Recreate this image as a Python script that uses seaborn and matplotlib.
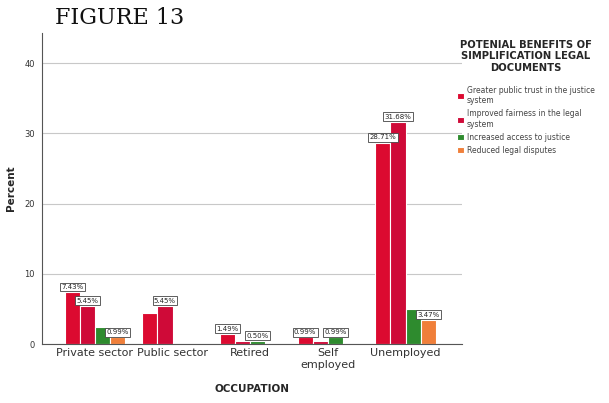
import matplotlib
matplotlib.use("Agg")
import matplotlib.pyplot as plt
import seaborn as sns
import pandas as pd

categories = ["Private sector", "Public sector", "Retired", "Self\nemployed", "Unemployed"]
series = ["Greater public trust in the justice\nsystem",
          "Improved fairness in the legal\nsystem",
          "Increased access to justice",
          "Reduced legal disputes"]
trust = [7.43, 4.46, 1.49, 0.99, 28.71]
fairness = [5.45, 5.45, 0.50, 0.50, 31.68]
access = [2.48, 0.0, 0.50, 0.99, 4.95]
disputes = [0.99, 0.0, 0.0, 0.0, 3.47]
labels_trust = ["7.43%", "", "1.49%", "0.99%", "28.71%"]
labels_fair = ["5.45%", "5.45%", "", "", "31.68%"]
labels_access = ["", "", "0.50%", "0.99%", ""]
labels_disp = ["0.99%", "", "", "", "3.47%"]
colors = ["#dc0a30", "#cf0a38", "#2e8b2e", "#f07f3a"]

rows = []
for s, vals in zip(series, [trust, fairness, access, disputes]):
    for c, v in zip(categories, vals):
        rows.append({"Occupation": c, "Benefit": s, "Percent": v})
df = pd.DataFrame(rows)

sns.set_theme(style="white")
fig = plt.figure(figsize=(6.09, 4.03), dpi=100)
ax = fig.add_axes([0.069, 0.146, 0.69, 0.772])
sns.barplot(data=df, x="Occupation", y="Percent", hue="Benefit",
            order=categories, hue_order=series, palette=colors, saturation=1,
            width=0.78, edgecolor="white", linewidth=0.8, ax=ax, legend=True)

ax.set_ylim(0, 44.3)
ax.set_xlim(-0.68, 4.73)
ax.set_yticks([0, 10, 20, 30, 40])
ax.yaxis.grid(True, color="#c8c8c8", linewidth=0.8)
ax.set_axisbelow(True)
for sp in ["top", "right"]:
    ax.spines[sp].set_visible(False)
for sp in ["left", "bottom"]:
    ax.spines[sp].set_color("#555555")
    ax.spines[sp].set_linewidth(0.8)
ax.tick_params(axis="y", labelsize=6, colors="#333333", length=0, pad=5)
ax.tick_params(axis="x", labelsize=8, colors="#333333", length=0, pad=3)
ax.set_ylabel("Percent", fontsize=7.5, fontweight="bold")
ax.yaxis.set_label_coords(-0.062, 0.5)
ax.set_xlabel("OCCUPATION", fontsize=7.5, fontweight="bold", labelpad=10)

all_labels = [labels_trust, labels_fair, labels_access, labels_disp]
for cont, labs in zip(ax.containers, all_labels):
    ax.bar_label(cont, labels=labs, fontsize=5, padding=1.5,
                 bbox=dict(boxstyle="square,pad=0.2", fc="white", ec="#444444", lw=0.6))

handles, lbls = ax.get_legend_handles_labels()
ax.get_legend().remove()
leg = fig.legend(handles, lbls, loc="upper left", bbox_to_anchor=(0.748, 0.905),
                 title="POTENIAL BENEFITS OF\nSIMPLIFICATION LEGAL\nDOCUMENTS",
                 fontsize=5.5, title_fontsize=7.2, frameon=False, borderpad=0.2,
                 borderaxespad=0.0,
                 handlelength=0.9, handleheight=0.9, handletextpad=0.35,
                 labelspacing=0.55, labelcolor="#444444")
leg.get_title().set_fontweight("bold")
leg.get_title().set_multialignment("center")
leg._legend_box.sep = 9

fig.text(0.09, 0.955, "FIGURE 13", fontsize=16, family="DejaVu Serif",
         va="center", ha="left", color="#111111")

fig.savefig("out.png", dpi=100)
